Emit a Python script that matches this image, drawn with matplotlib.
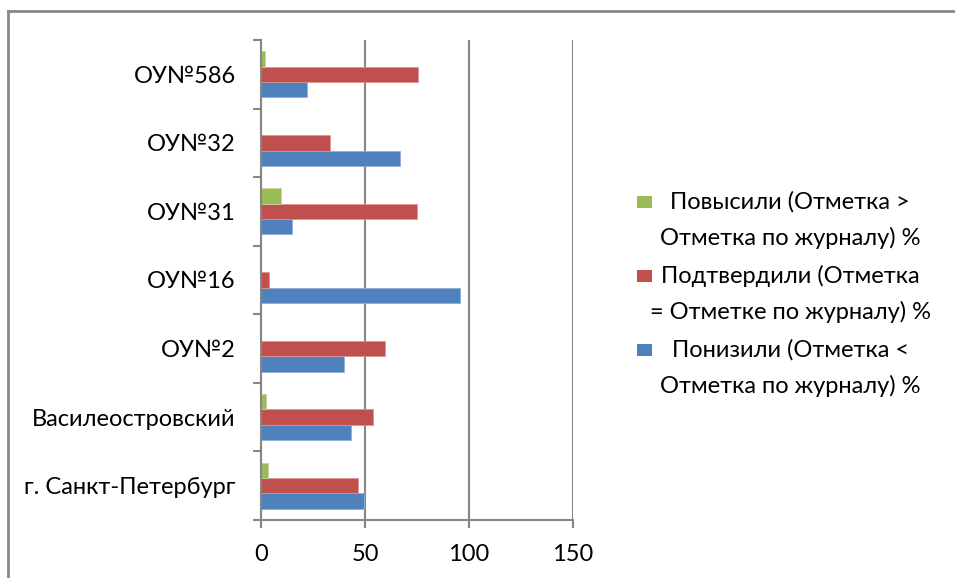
import matplotlib
matplotlib.use("Agg")
import matplotlib.pyplot as plt
from matplotlib.lines import Line2D
from matplotlib.patches import Rectangle
import numpy as np

categories = ["г. Санкт-Петербург", "Василеостровский", "ОУ№2", "ОУ№16", "ОУ№31", "ОУ№32", "ОУ№586"]
lowered = [49.3, 43.1, 39.7, 95.8, 14.7, 66.7, 21.9]
confirmed = [46.5, 53.7, 59.8, 3.8, 74.8, 33.0, 75.6]
raised = [3.5, 2.4, 0, 0, 9.8, 0, 1.9]
series_labels = ["Повысили (Отметка >\nОтметка по журналу) %",
                 "Подтвердили (Отметка\n= Отметке по журналу) %",
                 "Понизили (Отметка <\nОтметка по журналу) %"]
xticks = [0, 50, 100, 150]

plt.rcParams['font.family'] = ['Lato', 'DejaVu Sans']
FS = 17

W, H = 955, 578
fig = plt.figure(figsize=(9.55, 5.78), dpi=100)
ax = fig.add_axes([261/W, 58/H, (573-261)/W, 480/H])

c_blue = '#4F81BD'
c_red = '#C0504D'
c_green = '#9BBB59'
gray = '#868686'

y = np.arange(len(categories))
h = 0.223
ax.barh(y - h, lowered, height=h, color=c_blue, edgecolor='#8FB0D8', linewidth=0.6, zorder=3)
ax.barh(y, confirmed, height=h, color=c_red, edgecolor='#DA9493', linewidth=0.6, zorder=3)
ax.barh(y + h, raised, height=h, color=c_green, edgecolor='#C3D69F', linewidth=0.6, zorder=3)

ax.set_xlim(0, 150)
ax.set_ylim(-0.5, len(categories) - 0.5)
ax.set_xticks(xticks)
ax.set_xticklabels([str(t) for t in xticks], fontsize=FS)
ax.set_yticks(y)
ax.set_yticklabels(categories, fontsize=FS)
ax.set_yticks(np.arange(-0.5, len(categories), 1.0), minor=True)
ax.tick_params(axis='y', which='major', length=0, pad=18)
ax.tick_params(axis='y', which='minor', length=6, width=1.5, color=gray, direction='out')
ax.tick_params(axis='x', which='major', length=6, width=1.5, color=gray, direction='out', pad=11)

ax.grid(axis='x', color=gray, linewidth=1.5, zorder=0)
for s in ['top', 'right']:
    ax.spines[s].set_visible(False)
for s in ['left', 'bottom']:
    ax.spines[s].set_color(gray)
    ax.spines[s].set_linewidth(1.5)
    ax.spines[s].set_zorder(4)

# legend (manual, markers aligned with first text line)
leg_colors = [c_green, c_red, c_blue]
first_line_y = [202, 276, 350]
for col, lab, ly in zip(leg_colors, series_labels, first_line_y):
    fig.add_artist(Rectangle((637/W, 1 - (ly + 6)/H), 15/W, 12/H,
                             transform=fig.transFigure, facecolor=col, edgecolor='none'))
    fig.text(790/W, 1 - (ly + 18)/H, lab, ha='center', va='center', multialignment='center',
             fontsize=FS, linespacing=1.8)

# outer chart border
fig.add_artist(Line2D([8/W, 8/W], [0, 1 - 11/H], transform=fig.transFigure, color='#898989', linewidth=2))
fig.add_artist(Line2D([8/W, 1], [1 - 11/H, 1 - 11/H], transform=fig.transFigure, color='#898989', linewidth=2))

fig.savefig("out.png", dpi=100)
